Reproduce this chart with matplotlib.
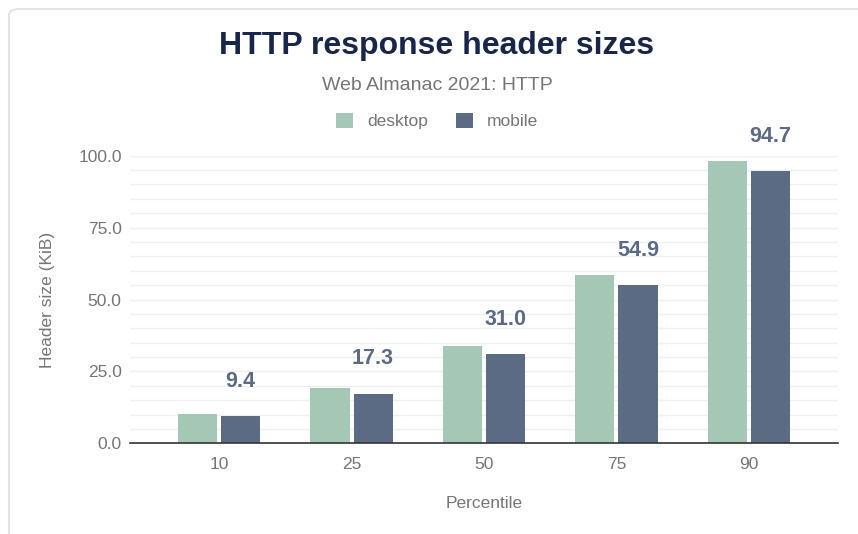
import numpy as np
import matplotlib
matplotlib.use('Agg')
import matplotlib.pyplot as plt
from matplotlib.patches import FancyBboxPatch

# data
percentiles = ['10', '25', '50', '75', '90']
desktop = [10.2, 19.1, 33.8, 58.5, 98.2]
mobile = [9.4, 17.3, 31.0, 54.9, 94.7]

C_DESK = '#A5C7B6'
C_MOB = '#5C6B84'
C_TEXT = '#757575'

plt.rcParams['font.family'] = ['Liberation Sans', 'DejaVu Sans']

W, H = 858, 534
fig = plt.figure(figsize=(W / 100, H / 100), dpi=100)


def px(x, y):
    ''' pixel coords (top-left origin) -> figure fraction '''
    return x / W, 1 - y / H


# card outline, behind everything
card = FancyBboxPatch(px(9, 540), (870 - 9) / W, (540 - 9) / H,
                      boxstyle='round,pad=0,rounding_size=0.012',
                      transform=fig.transFigure, facecolor='white',
                      edgecolor='#E3E3E3', lw=1.5, zorder=-10)
fig.patches.append(card)

ax = fig.add_axes([130 / W, (H - 443.3) / H, 708 / W, 287.6 / H])
ax.set_facecolor('none')

x = np.arange(len(percentiles))
bw = 0.295
gap = 0.015
ax.bar(x - bw / 2 - gap, desktop, bw, color=C_DESK, label='desktop', zorder=3)
ax.bar(x + bw / 2 + gap, mobile, bw, color=C_MOB, label='mobile', zorder=3)

for xi, v in zip(x, mobile):
    ax.annotate(f'{v:.1f}', (xi + bw / 2 + gap, v), xytext=(0, 25),
                textcoords='offset points', ha='center', va='center',
                fontsize=15.5, fontweight='bold', color=C_MOB)

ax.set_xlim(-0.672, len(percentiles) - 1 + 0.672)
ax.set_ylim(0, 100)
ax.set_yticks([0, 25, 50, 75, 100])
ax.set_yticklabels([f'{t:.1f}' for t in [0, 25, 50, 75, 100]])
ax.set_yticks(np.arange(0, 101, 5), minor=True)
ax.grid(axis='y', which='both', color='#EFEFEF', lw=1, zorder=0)
ax.set_xticks(x)
ax.set_xticklabels(percentiles)
ax.tick_params(axis='both', which='both', length=0, labelsize=12.5, colors=C_TEXT)
ax.tick_params(axis='x', pad=10)
ax.tick_params(axis='y', pad=6)
for s in ['top', 'right', 'left']:
    ax.spines[s].set_visible(False)
ax.spines['bottom'].set_color('#333333')
ax.spines['bottom'].set_linewidth(1.2)
ax.spines['bottom'].set_zorder(4)

ax.set_xlabel('Percentile', fontsize=12.5, color=C_TEXT, labelpad=17)
ax.set_ylabel('Header size (KiB)', fontsize=12.5, color=C_TEXT, labelpad=17)

fig.text(*px(437, 46), 'HTTP response header sizes', ha='center', va='center',
         fontsize=23, fontweight='bold', color='#18264A')
fig.text(*px(437, 86), 'Web Almanac 2021: HTTP', ha='center', va='center',
         fontsize=14, color=C_TEXT)

leg = fig.legend(loc='center', bbox_to_anchor=px(437, 121), ncol=2, frameon=False,
                 fontsize=12.5, handlelength=1.0, handleheight=1.0, columnspacing=1.6,
                 handletextpad=0.8)
for t in leg.get_texts():
    t.set_color(C_TEXT)

fig.savefig('out.png', dpi=100)
